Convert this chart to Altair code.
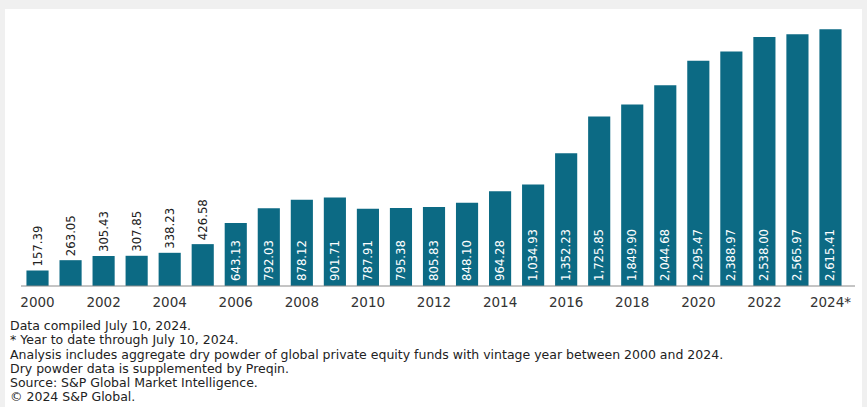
import altair as alt
import pandas as pd

years = ["2000", "2001", "2002", "2003", "2004", "2005", "2006", "2007", "2008",
         "2009", "2010", "2011", "2012", "2013", "2014", "2015", "2016", "2017",
         "2018", "2019", "2020", "2021", "2022", "2023", "2024*"]
values = [157.39, 263.05, 305.43, 307.85, 338.23, 426.58, 643.13, 792.03, 878.12,
          901.71, 787.91, 795.38, 805.83, 848.10, 964.28, 1034.93, 1352.23, 1725.85,
          1849.90, 2044.68, 2295.47, 2388.97, 2538.00, 2565.97, 2615.41]
tick_labels = ["2000", "2002", "2004", "2006", "2008", "2010", "2012", "2014",
               "2016", "2018", "2020", "2022", "2024*"]
footnotes = [
    "Data compiled July 10, 2024.",
    "* Year to date through July 10, 2024.",
    "Analysis includes aggregate dry powder of global private equity funds with vintage year between 2000 and 2024.",
    "Dry powder data is supplemented by Preqin.",
    "Source: S&P Global Market Intelligence.",
    "\u00a9 2024 S&P Global.",
]

BAR = "#0c6a84"
LABEL_FONT = "Liberation Sans Narrow, DejaVu Sans Condensed, sans-serif"
TEXT_FONT = "DejaVu Sans"

df = pd.DataFrame({"year": years, "value": values})
one = alt.Data(values=[{"k": 1}])

x_enc = alt.X(
    "year:N", sort=years,
    scale=alt.Scale(paddingInner=0.33, paddingOuter=0.165),
    axis=alt.Axis(values=tick_labels, labelAngle=0, title=None, ticks=False,
                  domain=False, labelFontSize=13.5, labelPadding=9, zindex=1,
                  labelColor="#333333", labelFont=TEXT_FONT),
)
y_enc = alt.Y("value:Q", scale=alt.Scale(domain=[0, 2700]), axis=None)

panel = alt.Chart(one).mark_rect(color="white").encode(
    x=alt.value(-16), x2=alt.value(841), y=alt.value(-12), y2=alt.value(400)
)

base = alt.Chart(df)
bars = base.mark_bar(color=BAR).encode(x=x_enc, y=y_enc)

baseline = alt.Chart(one).mark_rule(color="#8a8a8a", strokeWidth=1).encode(
    x=alt.value(0), x2=alt.value(834), y=alt.value(265)
)

inside = base.transform_filter("datum.value > 500").mark_text(
    angle=270, align="left", baseline="middle", dx=5, color="white",
    font=LABEL_FONT, fontSize=13
).encode(x=x_enc, y=alt.value(265), text=alt.Text("value:Q", format=",.2f"))

outside = base.transform_filter("datum.value <= 500").mark_text(
    angle=270, align="left", baseline="middle", dx=4, color="#222222",
    font=LABEL_FONT, fontSize=13
).encode(x=x_enc, y=y_enc, text=alt.Text("value:Q", format=",.2f"))

notes = alt.Chart(one).mark_text(
    align="left", baseline="top", lineBreak="\n", lineHeight=14.25,
    font=TEXT_FONT, fontSize=12.5, color="#222222"
).encode(x=alt.value(-11), y=alt.value(299), text=alt.value("\n".join(footnotes)))

chart = alt.layer(panel, bars, baseline, inside, outside, notes).properties(
    width=826, height=265,
    padding={"left": 21, "top": 21, "right": 20, "bottom": 121},
    autosize=alt.AutoSizeParams(type="none"),
    background="#f0f0f0",
).configure_view(stroke=None)

chart.save("out.html", embed_options={"renderer": "svg", "actions": False})
